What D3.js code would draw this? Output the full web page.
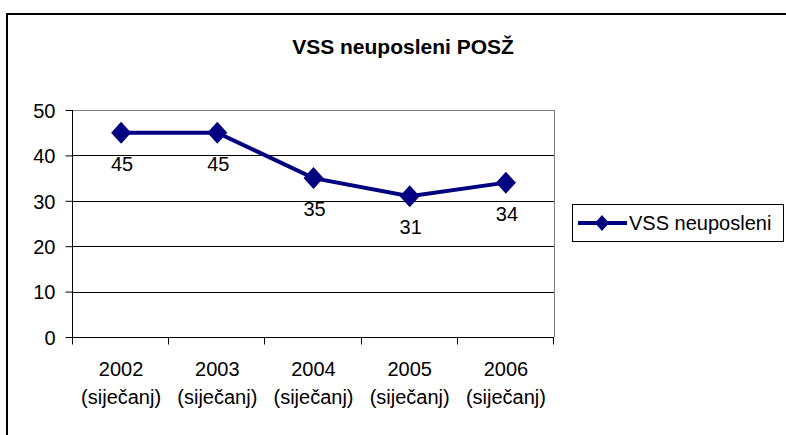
<!DOCTYPE html>
<html>
<head>
<meta charset="utf-8">
<script src="https://cdn.jsdelivr.net/npm/d3@7"></script>
<style>
  body { margin: 0; background: #fff; }
  svg text { font-family: "Liberation Sans", Arial, sans-serif; fill: #000; }
</style>
</head>
<body>
<svg id="chart" width="786" height="435"></svg>
<script>
// chart data
const years = ["2002", "2003", "2004", "2005", "2006"];
const monthLabel = "(siječanj)";
const values = [45, 45, 35, 31, 34];
const yTicks = [0, 10, 20, 30, 40, 50];
const seriesName = "VSS neuposleni";
const titleText = "VSS neuposleni POSŽ";

const svg = d3.select("#chart");

// plot area
const plotLeft = 73, plotRight = 554, plotTop = 110, plotBottom = 337;

const xScale = d3.scaleBand()
    .domain(years)
    .range([plotLeft, plotRight])
    .padding(0);

const yScale = d3.scaleLinear()
    .domain([0, 50])
    .range([plotBottom, plotTop]);

// outer chart border
svg.append("rect")
    .attr("x", 7)
    .attr("y", 14)
    .attr("width", 820)
    .attr("height", 500)
    .attr("fill", "none")
    .attr("stroke", "#000")
    .attr("stroke-width", 2);

// title
svg.append("text")
    .attr("x", 403)
    .attr("y", 54)
    .attr("text-anchor", "middle")
    .style("font-size", "21px")
    .style("font-weight", "bold")
    .text(titleText);

// gridlines (top one is the grey plot border)
svg.selectAll(".grid")
    .data(yTicks.filter(d => d > 0))
    .enter()
    .append("line")
    .attr("x1", plotLeft)
    .attr("x2", plotRight)
    .attr("y1", d => Math.round(yScale(d)) + 0.5)
    .attr("y2", d => Math.round(yScale(d)) + 0.5)
    .attr("stroke", d => d === 50 ? "#808080" : "#000")
    .attr("stroke-width", 1);

// right plot border
svg.append("line")
    .attr("x1", plotRight + 0.5)
    .attr("x2", plotRight + 0.5)
    .attr("y1", plotTop)
    .attr("y2", plotBottom)
    .attr("stroke", "#808080");

// y axis
const yAxis = d3.axisLeft(yScale)
    .tickValues(yTicks)
    .tickSize(7)
    .tickPadding(10)
    .tickFormat(d3.format("d"));

const yG = svg.append("g")
    .attr("transform", "translate(" + (plotLeft - 0.5) + ",0)")
    .call(yAxis);
yG.select(".domain").attr("stroke", "#000").attr("d", "M0," + plotTop + "V" + plotBottom);
yG.selectAll(".tick line").attr("stroke", "#000");
yG.selectAll(".tick text")
    .style("font-size", "20px")
    .style("font-family", "'Liberation Sans', Arial, sans-serif")
    .attr("dy", "0.36em");

// x axis - ticks at band boundaries
const xG = svg.append("g")
    .attr("transform", "translate(0," + (plotBottom + 0.5) + ")");
xG.append("line")
    .attr("x1", plotLeft - 7)
    .attr("x2", plotRight)
    .attr("y1", 0)
    .attr("y2", 0)
    .attr("stroke", "#000");
const boundaries = years.map(d => xScale(d)).concat([xScale.range()[1]]);
xG.selectAll(".xtick")
    .data(boundaries)
    .enter()
    .append("line")
    .attr("x1", d => Math.round(d) - 0.5)
    .attr("x2", d => Math.round(d) - 0.5)
    .attr("y1", 0)
    .attr("y2", 7)
    .attr("stroke", "#000");

// category labels, two lines
const catLabels = xG.selectAll(".cat")
    .data(years)
    .enter()
    .append("text")
    .attr("text-anchor", "middle")
    .style("font-size", "20px");
catLabels.append("tspan")
    .attr("x", d => xScale(d) + xScale.bandwidth() / 2)
    .attr("y", 38.5)
    .text(d => d);
catLabels.append("tspan")
    .attr("x", d => xScale(d) + xScale.bandwidth() / 2)
    .attr("y", 66.5)
    .text(monthLabel);

// series line
const points = years.map((y, i) => ({ year: y, value: values[i] }));
const cx = d => xScale(d.year) + xScale.bandwidth() / 2;

svg.append("path")
    .datum(points)
    .attr("fill", "none")
    .attr("stroke", "#000080")
    .attr("stroke-width", 4)
    .attr("d", d3.line().x(cx).y(d => yScale(d.value)));

// diamond markers
const diamond = (hw, hh) => "M0," + (-hh) + "L" + hw + ",0L0," + hh + "L" + (-hw) + ",0Z";
svg.selectAll(".marker")
    .data(points)
    .enter()
    .append("path")
    .attr("transform", d => "translate(" + cx(d) + "," + yScale(d.value) + ")")
    .attr("d", diamond(10, 11))
    .attr("fill", "#000080");

// data labels below points
svg.selectAll(".dlabel")
    .data(points)
    .enter()
    .append("text")
    .attr("x", d => cx(d) + 1)
    .attr("y", d => yScale(d.value) + 38)
    .attr("text-anchor", "middle")
    .style("font-size", "20px")
    .text(d => d.value);

// legend
const legG = svg.append("g").attr("transform", "translate(572,204)");
legG.append("rect")
    .attr("x", 0.5)
    .attr("y", 0.5)
    .attr("width", 211)
    .attr("height", 37)
    .attr("fill", "#fff")
    .attr("stroke", "#000");
legG.append("line")
    .attr("x1", 6)
    .attr("x2", 55)
    .attr("y1", 19)
    .attr("y2", 19)
    .attr("stroke", "#000080")
    .attr("stroke-width", 4);
legG.append("path")
    .attr("transform", "translate(30,19)")
    .attr("d", diamond(7, 8))
    .attr("fill", "#000080");
legG.append("text")
    .attr("x", 57)
    .attr("y", 26)
    .style("font-size", "20px")
    .text(seriesName);
</script>
</body>
</html>
